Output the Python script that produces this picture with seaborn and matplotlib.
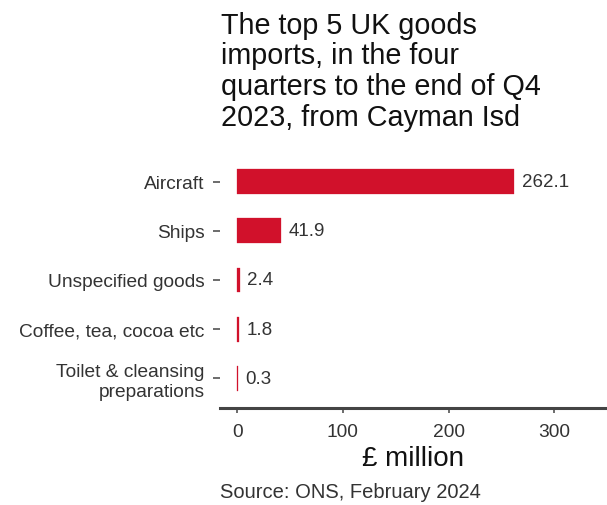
import matplotlib
matplotlib.use("Agg")
import matplotlib.pyplot as plt
import seaborn as sns
import pandas as pd

# Data
categories = ["Aircraft", "Ships", "Unspecified goods", "Coffee, tea, cocoa etc",
              "Toilet & cleansing\npreparations"]
values = [262.1, 41.9, 2.4, 1.8, 0.3]

df = pd.DataFrame({"category": categories, "value": values})

sns.set_style("white")
plt.rcParams['font.family'] = ['Liberation Sans', 'DejaVu Sans']

fig = plt.figure(figsize=(6.07, 5.06), dpi=100)
ax = fig.add_axes([0.3624, 0.1917, 0.6376, 0.506])

sns.barplot(data=df, x="value", y="category", color="#d1112b", width=0.5,
            saturation=1, edgecolor="#d1112b", linewidth=0.2, ax=ax)

# value labels just past the bar ends
for i, v in enumerate(values):
    ax.text(v + 7, i, f"{v:.1f}", va="center", ha="left", fontsize=13.5, color="#333333")

ax.set_xlim(-16.3, 350)
ax.set_ylim(4.6, -0.6)
ax.set_xticks([0, 100, 200, 300])
ax.set_ylabel("")
ax.set_xlabel("£ million", fontsize=20, color="#111111", labelpad=4)

for s in ["top", "right", "left"]:
    ax.spines[s].set_visible(False)
ax.spines["bottom"].set_color("#444444")
ax.spines["bottom"].set_linewidth(2.2)

ax.tick_params(axis="both", which="both", length=5, width=1.1, color="#444444",
               labelcolor="#333333", labelsize=13.8, left=True, bottom=True)
ax.tick_params(axis="y", pad=6)
ax.tick_params(axis="x", length=3.5, pad=7)

fig.text(0.364, 0.977, "The top 5 UK goods\nimports, in the four\nquarters to the end of Q4\n2023, from Cayman Isd",
         fontsize=20.7, ha="left", va="top", linespacing=1.13, color="#111111")
fig.text(0.578, 0.026, "Source: ONS, February 2024", fontsize=14.5, ha="center",
         va="center", color="#333333")

fig.savefig("out.png", dpi=100)
